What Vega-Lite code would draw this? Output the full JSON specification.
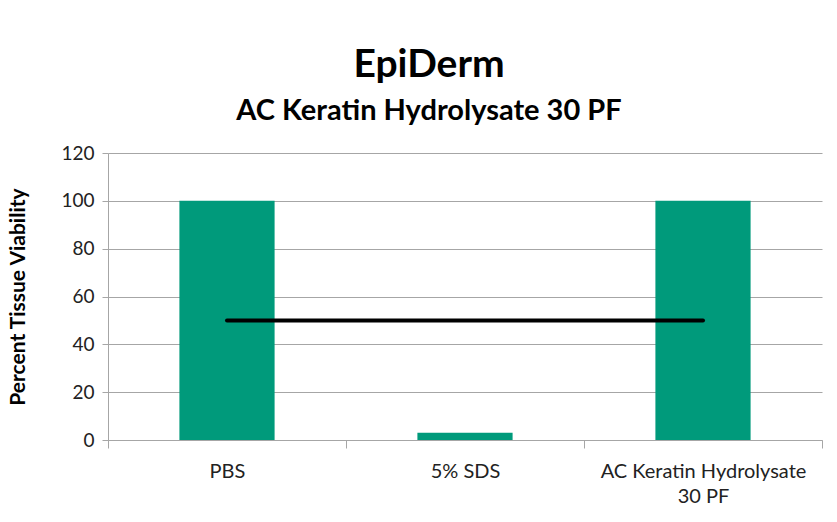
{
  "$schema": "https://vega.github.io/schema/vega-lite/v6.json",
  "autosize": {"type": "none"},
  "padding": {"left": 108, "top": 153, "right": 15, "bottom": 82},
  "width": 714,
  "height": 287,
  "background": "white",
  "title": {
    "text": "EpiDerm",
    "subtitle": "AC Keratin Hydrolysate 30 PF",
    "font": "Lato",
    "fontSize": 39,
    "fontWeight": "bold",
    "color": "#000000",
    "subtitleFont": "Lato",
    "subtitleFontSize": 29,
    "subtitleFontWeight": "bold",
    "subtitleColor": "#000000",
    "subtitlePadding": 12,
    "anchor": "middle",
    "dx": -36,
    "offset": 18
  },
  "config": {
    "view": {"stroke": null},
    "font": "Lato"
  },
  "datasets": {
    "bars": [
      {"category": "PBS", "viability": 100},
      {"category": "5% SDS", "viability": 3},
      {"category": "AC Keratin Hydrolysate 30 PF", "viability": 100}
    ],
    "ref": [
      {"category": "PBS", "threshold": 50},
      {"category": "AC Keratin Hydrolysate 30 PF", "threshold": 50}
    ]
  },
  "encoding": {
    "x": {
      "field": "category",
      "type": "nominal",
      "sort": null,
      "scale": {"domain": ["PBS", "5% SDS", "AC Keratin Hydrolysate 30 PF"], "paddingInner": 0, "paddingOuter": 0},
      "axis": {
        "title": null,
        "labelAngle": 0,
        "labelFont": "Lato",
        "labelFontSize": 20,
        "labelColor": "#222222",
        "labelPadding": 13,
        "labelLineHeight": 25,
        "labelLimit": 0,
        "labelExpr": "datum.label == 'AC Keratin Hydrolysate 30 PF' ? ['AC Keratin Hydrolysate', '30 PF'] : datum.label",
        "tickBand": "extent",
        "tickSize": 8,
        "tickColor": "#a6a6a6",
        "domainColor": "#a6a6a6",
        "grid": false
      }
    }
  },
  "layer": [
    {
      "data": {"name": "bars"},
      "mark": {"type": "bar", "color": "#009a7b", "width": {"band": 0.4}},
      "encoding": {
        "y": {
          "field": "viability",
          "type": "quantitative",
          "scale": {"domain": [0, 120]},
          "axis": {
            "title": "Percent Tissue Viability",
            "titleFont": "Lato",
            "titleFontSize": 21,
            "titleFontWeight": "bold",
            "titleColor": "#000000",
            "titlePadding": 32,
            "values": [0, 20, 40, 60, 80, 100, 120],
            "labelFont": "Lato",
            "labelFontSize": 19,
            "labelColor": "#222222",
            "labelPadding": 8,
            "tickSize": 6,
            "tickColor": "#a6a6a6",
            "domainColor": "#a6a6a6",
            "grid": true,
            "gridColor": "#a6a6a6"
          }
        }
      }
    },
    {
      "data": {"name": "ref"},
      "mark": {"type": "line", "color": "#000000", "strokeWidth": 4, "strokeCap": "round"},
      "encoding": {
        "y": {"field": "threshold", "type": "quantitative"}
      }
    }
  ]
}
